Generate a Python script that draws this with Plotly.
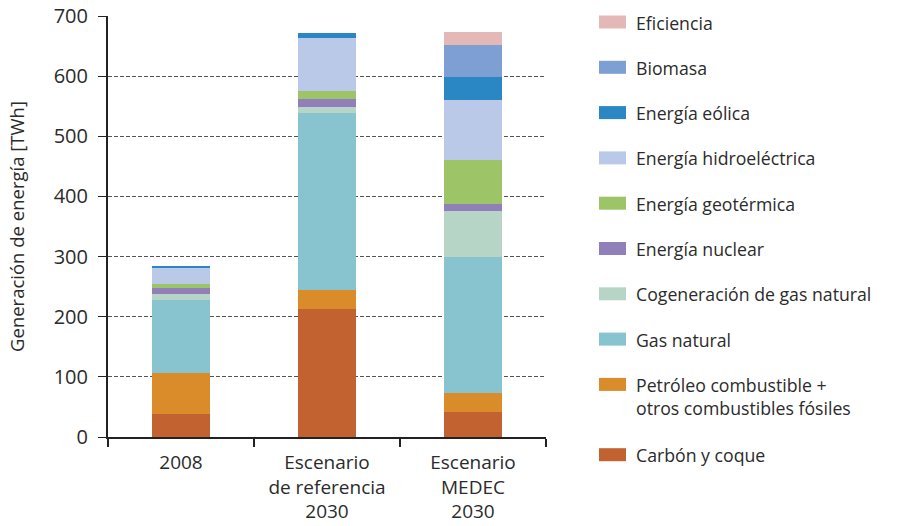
import plotly.graph_objects as go

# Scenario categories (multi-line tick labels)
categories = ["2008", "Escenario<br>de referencia<br>2030", "Escenario<br>MEDEC<br>2030"]

# Generation by source, TWh (bottom of the stack first)
carbon = [39, 213, 42]
petroleo = [67, 31.5, 31]
gas_natural = [122, 294, 226]
cogeneracion = [9, 11, 76]
nuclear = [11, 12, 13]
geotermica = [7, 14, 73]
hidroelectrica = [27, 88, 99]
eolica = [1.5, 8.5, 38]
biomasa = [0, 0, 53]
eficiencia = [0, 0, 23]

series = [
    ("Carbón y coque", carbon, "#C26230"),
    ("Petróleo combustible +<br>otros combustibles fósiles", petroleo, "#DA8C2B"),
    ("Gas natural", gas_natural, "#88C4CF"),
    ("Cogeneración de gas natural", cogeneracion, "#B7D5C7"),
    ("Energía nuclear", nuclear, "#917FBA"),
    ("Energía geotérmica", geotermica, "#9DC466"),
    ("Energía hidroeléctrica", hidroelectrica, "#BBC9E8"),
    ("Energía eólica", eolica, "#2A87C3"),
    ("Biomasa", biomasa, "#7E9FD4"),
    ("Eficiencia", eficiencia, "#E4B8B6"),
]

FONT = "Open Sans"
TEXT = "#2b2b2b"

fig = go.Figure()
for name, vals, color in series:
    fig.add_trace(go.Bar(
        x=categories, y=vals, name=name,
        marker=dict(color=color, line=dict(width=0)),
        showlegend=False,
    ))

# Plot area geometry in pixels (used to place the side legend)
W, H = 904, 526
ml, mr, mt, mb = 108, 358, 16, 89
pw, ph = W - ml - mr, H - mt - mb

def px_x(p):
    return (p - ml) / pw

def px_y(p):
    return (H - mb - p) / ph

# Side legend: top entry is the last stacked series
legend_top = 22
step = 45.3
y = legend_top
for name, vals, color in reversed(series):
    fig.add_shape(
        type="rect", xref="paper", yref="paper",
        x0=px_x(599), x1=px_x(626), y0=px_y(y + 6.5), y1=px_y(y - 6.5),
        fillcolor=color, line=dict(width=0),
    )
    nlines = name.count("<br>") + 1
    fig.add_annotation(
        xref="paper", yref="paper", x=px_x(634), y=px_y(y - 13.5),
        text=name, showarrow=False, xanchor="left", yanchor="top",
        align="left", font=dict(family=FONT, size=17.7, color=TEXT),
    )
    y += step + (nlines - 1) * 25

fig.update_layout(
    width=W, height=H,
    margin=dict(l=ml, r=mr, t=mt, b=mb, autoexpand=False),
    barmode="stack", bargap=0.6,
    plot_bgcolor="white", paper_bgcolor="white",
    font=dict(family=FONT, size=18, color=TEXT),
    xaxis=dict(
        type="category", tickson="boundaries", automargin=False,
        ticks="outside", ticklen=8, tickcolor="#222", tickwidth=1.5,
        ticklabelstandoff=7,
        showline=True, linecolor="#222", linewidth=2,
        showgrid=False, tickfont=dict(size=19, color=TEXT),
    ),
    yaxis=dict(
        range=[0, 700], dtick=100, automargin=False,
        ticks="outside", ticklen=8, tickcolor="#222", tickwidth=1,
        ticklabelstandoff=6,
        showline=True, linecolor="#222", linewidth=2,
        showgrid=True, gridcolor="#555", gridwidth=1, griddash="4px,2px",
        zeroline=False, tickfont=dict(size=20, color=TEXT),
        title=dict(text="Generación de energía [TWh]", font=dict(size=18.5, color=TEXT), standoff=24),
    ),
)

fig.write_html("out.html")
